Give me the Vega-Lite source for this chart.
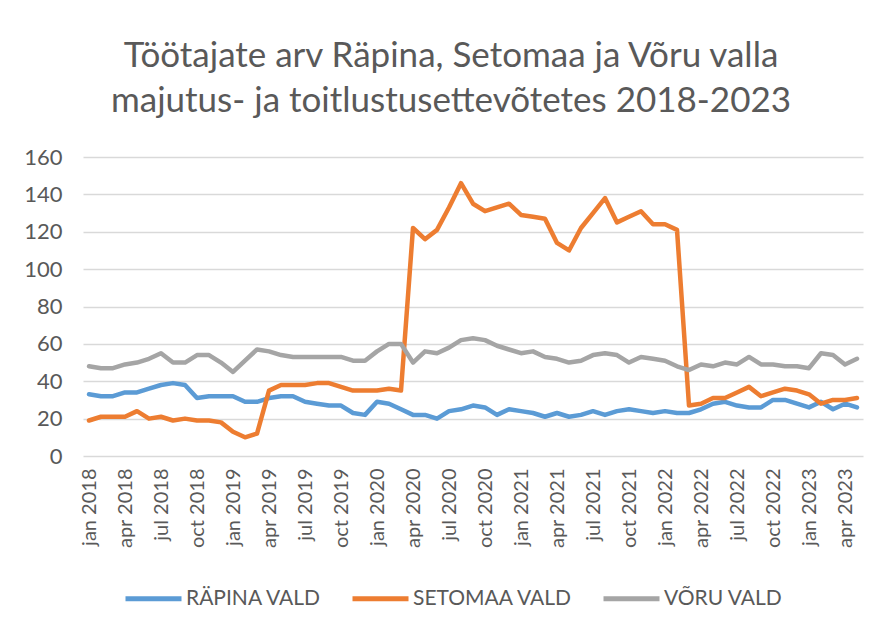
{
 "$schema": "https://vega.github.io/schema/vega-lite/v6.json",
 "width": 780,
 "height": 299,
 "autosize": "none",
 "padding": {"left": 83, "top": 157, "right": 17, "bottom": 172},
 "background": "white",
 "config": {"font": "Lato", "view": {"stroke": null}},
 "title": {
  "text": ["Töötajate arv Räpina, Setomaa ja Võru valla", "majutus- ja toitlustusettevõtetes 2018-2023"],
  "font": "Lato", "fontSize": 35, "fontWeight": "normal", "color": "#595959",
  "anchor": "middle", "frame": "group", "dx": -22, "offset": 27, "lineHeight": 45
 },
 "data": {"values": [
  {"m": "jan 2018", "RÄPINA VALD": 33, "SETOMAA VALD": 19, "VÕRU VALD": 48},
  {"m": "feb 2018", "RÄPINA VALD": 32, "SETOMAA VALD": 21, "VÕRU VALD": 47},
  {"m": "mar 2018", "RÄPINA VALD": 32, "SETOMAA VALD": 21, "VÕRU VALD": 47},
  {"m": "apr 2018", "RÄPINA VALD": 34, "SETOMAA VALD": 21, "VÕRU VALD": 49},
  {"m": "may 2018", "RÄPINA VALD": 34, "SETOMAA VALD": 24, "VÕRU VALD": 50},
  {"m": "jun 2018", "RÄPINA VALD": 36, "SETOMAA VALD": 20, "VÕRU VALD": 52},
  {"m": "jul 2018", "RÄPINA VALD": 38, "SETOMAA VALD": 21, "VÕRU VALD": 55},
  {"m": "aug 2018", "RÄPINA VALD": 39, "SETOMAA VALD": 19, "VÕRU VALD": 50},
  {"m": "sep 2018", "RÄPINA VALD": 38, "SETOMAA VALD": 20, "VÕRU VALD": 50},
  {"m": "oct 2018", "RÄPINA VALD": 31, "SETOMAA VALD": 19, "VÕRU VALD": 54},
  {"m": "nov 2018", "RÄPINA VALD": 32, "SETOMAA VALD": 19, "VÕRU VALD": 54},
  {"m": "dec 2018", "RÄPINA VALD": 32, "SETOMAA VALD": 18, "VÕRU VALD": 50},
  {"m": "jan 2019", "RÄPINA VALD": 32, "SETOMAA VALD": 13, "VÕRU VALD": 45},
  {"m": "feb 2019", "RÄPINA VALD": 29, "SETOMAA VALD": 10, "VÕRU VALD": 51},
  {"m": "mar 2019", "RÄPINA VALD": 29, "SETOMAA VALD": 12, "VÕRU VALD": 57},
  {"m": "apr 2019", "RÄPINA VALD": 31, "SETOMAA VALD": 35, "VÕRU VALD": 56},
  {"m": "may 2019", "RÄPINA VALD": 32, "SETOMAA VALD": 38, "VÕRU VALD": 54},
  {"m": "jun 2019", "RÄPINA VALD": 32, "SETOMAA VALD": 38, "VÕRU VALD": 53},
  {"m": "jul 2019", "RÄPINA VALD": 29, "SETOMAA VALD": 38, "VÕRU VALD": 53},
  {"m": "aug 2019", "RÄPINA VALD": 28, "SETOMAA VALD": 39, "VÕRU VALD": 53},
  {"m": "sep 2019", "RÄPINA VALD": 27, "SETOMAA VALD": 39, "VÕRU VALD": 53},
  {"m": "oct 2019", "RÄPINA VALD": 27, "SETOMAA VALD": 37, "VÕRU VALD": 53},
  {"m": "nov 2019", "RÄPINA VALD": 23, "SETOMAA VALD": 35, "VÕRU VALD": 51},
  {"m": "dec 2019", "RÄPINA VALD": 22, "SETOMAA VALD": 35, "VÕRU VALD": 51},
  {"m": "jan 2020", "RÄPINA VALD": 29, "SETOMAA VALD": 35, "VÕRU VALD": 56},
  {"m": "feb 2020", "RÄPINA VALD": 28, "SETOMAA VALD": 36, "VÕRU VALD": 60},
  {"m": "mar 2020", "RÄPINA VALD": 25, "SETOMAA VALD": 35, "VÕRU VALD": 60},
  {"m": "apr 2020", "RÄPINA VALD": 22, "SETOMAA VALD": 122, "VÕRU VALD": 50},
  {"m": "may 2020", "RÄPINA VALD": 22, "SETOMAA VALD": 116, "VÕRU VALD": 56},
  {"m": "jun 2020", "RÄPINA VALD": 20, "SETOMAA VALD": 121, "VÕRU VALD": 55},
  {"m": "jul 2020", "RÄPINA VALD": 24, "SETOMAA VALD": 133, "VÕRU VALD": 58},
  {"m": "aug 2020", "RÄPINA VALD": 25, "SETOMAA VALD": 146, "VÕRU VALD": 62},
  {"m": "sep 2020", "RÄPINA VALD": 27, "SETOMAA VALD": 135, "VÕRU VALD": 63},
  {"m": "oct 2020", "RÄPINA VALD": 26, "SETOMAA VALD": 131, "VÕRU VALD": 62},
  {"m": "nov 2020", "RÄPINA VALD": 22, "SETOMAA VALD": 133, "VÕRU VALD": 59},
  {"m": "dec 2020", "RÄPINA VALD": 25, "SETOMAA VALD": 135, "VÕRU VALD": 57},
  {"m": "jan 2021", "RÄPINA VALD": 24, "SETOMAA VALD": 129, "VÕRU VALD": 55},
  {"m": "feb 2021", "RÄPINA VALD": 23, "SETOMAA VALD": 128, "VÕRU VALD": 56},
  {"m": "mar 2021", "RÄPINA VALD": 21, "SETOMAA VALD": 127, "VÕRU VALD": 53},
  {"m": "apr 2021", "RÄPINA VALD": 23, "SETOMAA VALD": 114, "VÕRU VALD": 52},
  {"m": "may 2021", "RÄPINA VALD": 21, "SETOMAA VALD": 110, "VÕRU VALD": 50},
  {"m": "jun 2021", "RÄPINA VALD": 22, "SETOMAA VALD": 122, "VÕRU VALD": 51},
  {"m": "jul 2021", "RÄPINA VALD": 24, "SETOMAA VALD": 130, "VÕRU VALD": 54},
  {"m": "aug 2021", "RÄPINA VALD": 22, "SETOMAA VALD": 138, "VÕRU VALD": 55},
  {"m": "sep 2021", "RÄPINA VALD": 24, "SETOMAA VALD": 125, "VÕRU VALD": 54},
  {"m": "oct 2021", "RÄPINA VALD": 25, "SETOMAA VALD": 128, "VÕRU VALD": 50},
  {"m": "nov 2021", "RÄPINA VALD": 24, "SETOMAA VALD": 131, "VÕRU VALD": 53},
  {"m": "dec 2021", "RÄPINA VALD": 23, "SETOMAA VALD": 124, "VÕRU VALD": 52},
  {"m": "jan 2022", "RÄPINA VALD": 24, "SETOMAA VALD": 124, "VÕRU VALD": 51},
  {"m": "feb 2022", "RÄPINA VALD": 23, "SETOMAA VALD": 121, "VÕRU VALD": 48},
  {"m": "mar 2022", "RÄPINA VALD": 23, "SETOMAA VALD": 27, "VÕRU VALD": 46},
  {"m": "apr 2022", "RÄPINA VALD": 25, "SETOMAA VALD": 28, "VÕRU VALD": 49},
  {"m": "may 2022", "RÄPINA VALD": 28, "SETOMAA VALD": 31, "VÕRU VALD": 48},
  {"m": "jun 2022", "RÄPINA VALD": 29, "SETOMAA VALD": 31, "VÕRU VALD": 50},
  {"m": "jul 2022", "RÄPINA VALD": 27, "SETOMAA VALD": 34, "VÕRU VALD": 49},
  {"m": "aug 2022", "RÄPINA VALD": 26, "SETOMAA VALD": 37, "VÕRU VALD": 53},
  {"m": "sep 2022", "RÄPINA VALD": 26, "SETOMAA VALD": 32, "VÕRU VALD": 49},
  {"m": "oct 2022", "RÄPINA VALD": 30, "SETOMAA VALD": 34, "VÕRU VALD": 49},
  {"m": "nov 2022", "RÄPINA VALD": 30, "SETOMAA VALD": 36, "VÕRU VALD": 48},
  {"m": "dec 2022", "RÄPINA VALD": 28, "SETOMAA VALD": 35, "VÕRU VALD": 48},
  {"m": "jan 2023", "RÄPINA VALD": 26, "SETOMAA VALD": 33, "VÕRU VALD": 47},
  {"m": "feb 2023", "RÄPINA VALD": 29, "SETOMAA VALD": 28, "VÕRU VALD": 55},
  {"m": "mar 2023", "RÄPINA VALD": 25, "SETOMAA VALD": 30, "VÕRU VALD": 54},
  {"m": "apr 2023", "RÄPINA VALD": 28, "SETOMAA VALD": 30, "VÕRU VALD": 49},
  {"m": "may 2023", "RÄPINA VALD": 26, "SETOMAA VALD": 31, "VÕRU VALD": 52}
 ]},
 "transform": [{"fold": ["RÄPINA VALD", "SETOMAA VALD", "VÕRU VALD"], "as": ["series", "value"]}],
 "mark": {"type": "line", "strokeWidth": 4.5, "strokeCap": "round", "strokeJoin": "round"},
 "encoding": {
  "x": {
   "field": "m", "type": "ordinal", "sort": null,
   "scale": {"type": "point", "padding": 0.5},
   "axis": {
    "title": null,
    "values": ["jan 2018", "apr 2018", "jul 2018", "oct 2018", "jan 2019", "apr 2019", "jul 2019", "oct 2019", "jan 2020", "apr 2020", "jul 2020", "oct 2020", "jan 2021", "apr 2021", "jul 2021", "oct 2021", "jan 2022", "apr 2022", "jul 2022", "oct 2022", "jan 2023", "apr 2023"],
    "labelAngle": 270, "labelFontSize": 20, "labelColor": "#595959", "labelPadding": 12,
    "labelOverlap": false, "domain": false, "ticks": false, "grid": false
   }
  },
  "y": {
   "field": "value", "type": "quantitative",
   "scale": {"domain": [0, 160]},
   "axis": {
    "title": null, "values": [0, 20, 40, 60, 80, 100, 120, 140, 160],
    "labelFontSize": 22, "labelColor": "#595959", "labelPadding": 21,
    "domain": false, "ticks": false, "gridColor": "#d9d9d9", "gridWidth": 1.5
   }
  },
  "color": {
   "field": "series", "type": "nominal",
   "scale": {"domain": ["RÄPINA VALD", "SETOMAA VALD", "VÕRU VALD"], "range": ["#5B9BD5", "#ED7D31", "#A5A5A5"]},
   "legend": {
    "orient": "none", "legendX": 40, "legendY": 411, "direction": "horizontal",
    "title": null, "symbolType": "stroke", "symbolSize": 3136, "symbolStrokeWidth": 5,
    "labelFont": "Lato", "labelFontSize": 21, "labelColor": "#595959", "labelOffset": 2,
    "columnPadding": 20, "padding": 0
   }
  }
 }
}
